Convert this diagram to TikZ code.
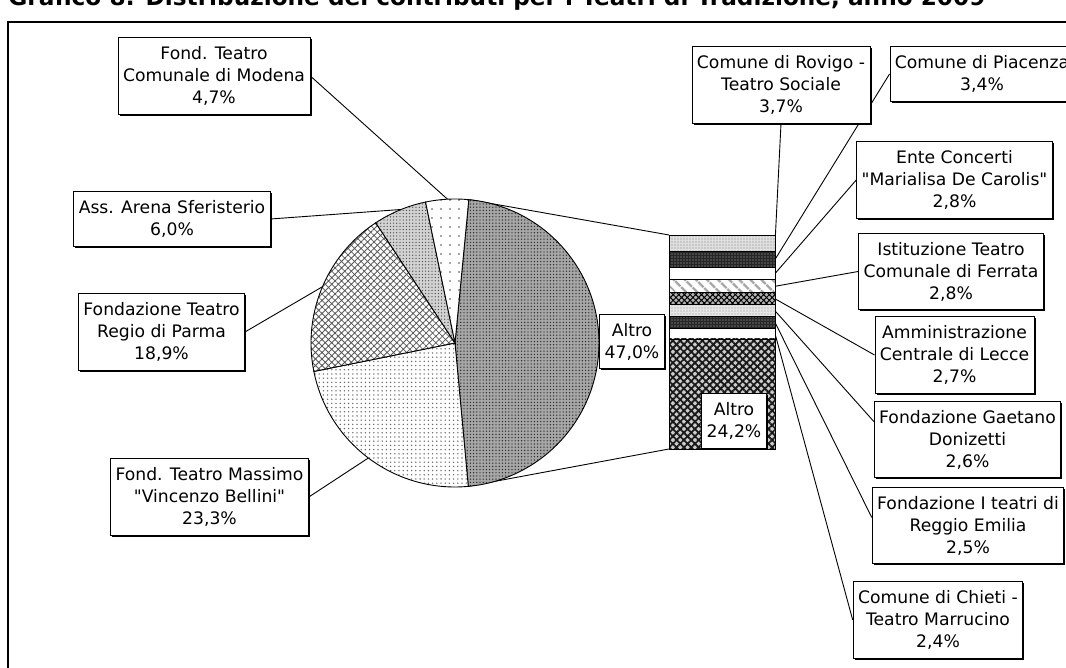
\documentclass[tikz,border=0pt]{standalone}
\usepackage{fontspec}
\setmainfont{DejaVu Sans}
\usetikzlibrary{patterns,patterns.meta,shadows,backgrounds}

\tikzset{
  lbl/.style={draw, fill=white, align=center, inner xsep=2.5pt, inner ysep=4.3pt,
    font=\fontsize{8.6}{11}\selectfont,
    drop shadow={shadow xshift=0.8pt, shadow yshift=-0.8pt, opacity=1, fill=black}},
  lead/.style={line width=0.45pt},
  fetta/.style={draw, line width=0.45pt},
}

\begin{document}
\begin{tikzpicture}[x=0.5pt,y=0.5pt]
    \useasboundingbox (0,0) rectangle (1066,668);
    % titolo, tagliato in alto
    \node[anchor=base west, inner sep=0pt, font=\bfseries\fontsize{11.6}{12}\selectfont] (titolo) at (8,662)
      {Grafico 8: Distribuzione dei contributi per i Teatri di Tradizione, anno 2009};
    \draw[line width=1pt] (8,-5) -- (8,646) -- (1075,646);

    % torta
    \coordinate (pc) at (455,325);
    \node[circle, minimum size=144pt, inner sep=0pt, outer sep=0pt] (pie) at (pc) {};
    \draw[fetta, preaction={fill=gray!70}, pattern={Dots[distance=1.6pt, radius=0.35pt]}, pattern color=black!85]
      (pc) -- ++(84.5:144) arc[start angle=84.5, end angle=-84.7, radius=144] -- cycle;
    \draw[fetta, preaction={fill=white}, pattern={Dots[distance=2.1pt, radius=0.38pt]}, pattern color=gray!80!black]
      (pc) -- ++(-84.7:144) arc[start angle=-84.7, end angle=-168.6, radius=144] -- cycle;
    \draw[fetta, preaction={fill=white}, pattern={Hatch[angle=45, distance=2.3pt, line width=0.4pt]}, pattern color=black!65]
      (pc) -- ++(-168.6:144) arc[start angle=-168.6, end angle=-236.6, radius=144] -- cycle;
    \draw[fetta, preaction={fill=gray!35}, pattern={Dots[distance=1.6pt, radius=0.32pt]}, pattern color=black!75]
      (pc) -- ++(-236.6:144) arc[start angle=-236.6, end angle=-258.2, radius=144] -- cycle;
    \draw[fetta, preaction={fill=white}, pattern={Dots[distance=4.5pt, radius=0.4pt]}, pattern color=black!70]
      (pc) -- ++(-258.2:144) arc[start angle=-258.2, end angle=-275.5, radius=144] -- cycle;

    % barra
    \node[minimum width=53pt, minimum height=107pt, inner sep=0pt, outer sep=0pt] (bar) at (722,326) {};
    \draw[fetta, preaction={fill=gray!25}, pattern={Dots[distance=1.5pt, radius=0.3pt]}, pattern color=gray] (669,433) rectangle (775,416.2);
    \draw[fetta, preaction={fill=black!85}, pattern={Dots[distance=1.5pt, radius=0.3pt]}, pattern color=gray!60] (669,416.2) rectangle (775,400.8);
    \draw[fetta, fill=white] (669,400.8) rectangle (775,388.1);
    \draw[fetta, preaction={fill=white}, pattern={Lines[angle=-45, distance=4pt, line width=1.3pt]}, pattern color=gray!70] (669,388.1) rectangle (775,375.4);
    \draw[fetta, preaction={fill=gray!60}, pattern={Hatch[angle=45, distance=2pt, line width=0.5pt]}, pattern color=black] (669,375.4) rectangle (775,363.1);
    \draw[fetta, preaction={fill=gray!20}, pattern={Dots[distance=1.5pt, radius=0.3pt]}, pattern color=gray!80] (669,363.1) rectangle (775,351.3);
    \draw[fetta, preaction={fill=black!85}, pattern={Dots[distance=1.5pt, radius=0.3pt]}, pattern color=gray!50] (669,351.3) rectangle (775,339.9);
    \draw[fetta, fill=white] (669,339.9) rectangle (775,329);
    \draw[fetta, preaction={fill=gray!40}, pattern={Hatch[angle=45, distance=2.6pt, line width=0.9pt]}, pattern color=black!90] (669,329) rectangle (775,219);

    \coordinate (sRov) at (775,424.6);
    \coordinate (sPia) at (775,408.5);
    \coordinate (sEnte) at (775,394.4);
    \coordinate (sFer) at (775,381.7);
    \coordinate (sLec) at (775,369.2);
    \coordinate (sDon) at (775,357.2);
    \coordinate (sReg) at (775,345.6);
    \coordinate (sChi) at (775,334.4);

    % etichette
    \node[lbl] (modena) at (214,592) {Fond. Teatro\\Comunale di Modena\\4,7\%};
    \node[lbl] (sfer) at (172,449) {Ass. Arena Sferisterio\\6,0\%};
    \node[lbl] (parma) at (161.5,336) {Fondazione Teatro\\Regio di Parma\\18,9\%};
    \node[lbl] (bellini) at (209.5,171) {Fond. Teatro Massimo\\\textquotedbl Vincenzo Bellini\textquotedbl\\23,3\%};
    \node[lbl] (altroA) at (632,326.5) {Altro\\47,0\%};
    \node[lbl] (altroB) at (734,247) {Altro\\24,2\%};
    \node[lbl] (rovigo) at (781,583) {Comune di Rovigo -\\Teatro Sociale\\3,7\%};
    \node[lbl] (piacenza) at (982,594) {Comune di Piacenza\\3,4\%};
    \node[lbl] (ente) at (954.5,488) {Ente Concerti\\\textquotedbl Marialisa De Carolis\textquotedbl\\2,8\%};
    \node[lbl] (ferrata) at (951,396.5) {Istituzione Teatro\\Comunale di Ferrata\\2,8\%};
    \node[lbl] (lecce) at (954.5,313) {Amministrazione\\Centrale di Lecce\\2,7\%};
    \node[lbl] (doni) at (967.5,228.5) {Fondazione Gaetano\\Donizetti\\2,6\%};
    \node[lbl] (reggio) at (968,142.5) {Fondazione I teatri di\\Reggio Emilia\\2,5\%};
    \node[lbl] (chieti) at (938,48) {Comune di Chieti -\\Teatro Marrucino\\2,4\%};

    % linee guida
    \begin{scope}[on background layer]
      \draw[lead] (pie.84.5) -- (bar.north west);
      \draw[lead] (pie.275.3) -- (bar.south west);
      \draw[lead] (modena.east) -- (pie.93.35);
      \draw[lead] (sfer.east) -- (pie.112.6);
      \draw[lead] (parma.east) -- (pie.157.4);
      \draw[lead] (bellini.east) -- (pie.233.35);
      \draw[lead] (rovigo.south) -- (sRov);
      \draw[lead] (piacenza.west) -- (sPia);
      \draw[lead] (ente.west) -- (sEnte);
      \draw[lead] (ferrata.west) -- (sFer);
      \draw[lead] (lecce.west) -- (sLec);
      \draw[lead] ([yshift=9pt]doni.west) -- (sDon);
      \draw[lead] ([yshift=4pt]reggio.west) -- (sReg);
      \draw[lead] (chieti.west) -- (sChi);
    \end{scope}
  \end{tikzpicture}
\end{document}
